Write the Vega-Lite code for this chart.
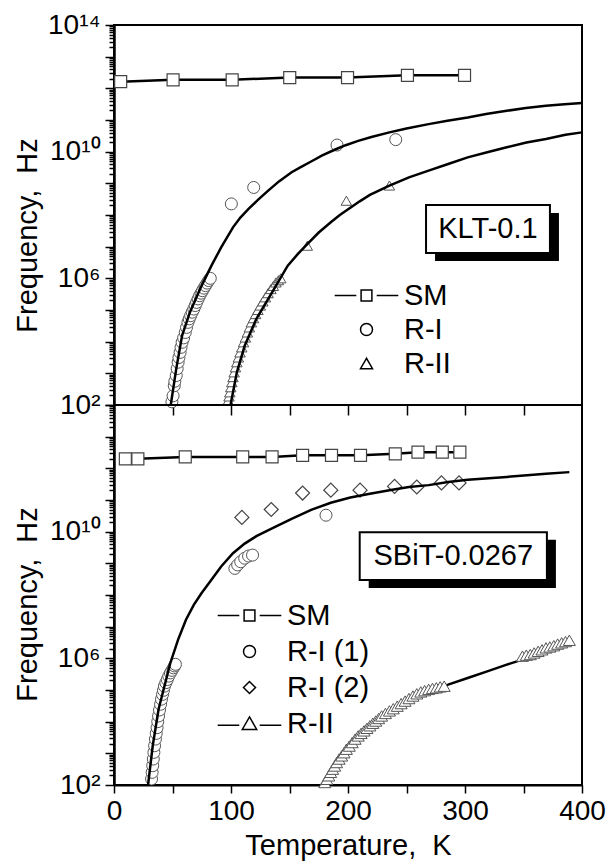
{
  "$schema": "https://vega.github.io/schema/vega-lite/v6.json",
  "autosize": {"type": "pad"},
  "padding": {"left": 12, "top": 10, "right": 5, "bottom": 5},
  "bounds": "flush",
  "spacing": 0,
  "config": {
    "font": "Liberation Sans",
    "view": {"stroke": "black", "strokeWidth": 2},
    "axis": {"grid": false, "labelColor": "black", "tickColor": "black", "domainColor": "black", "titleColor": "black", "titleFontWeight": "normal", "labelFont": "Liberation Sans", "titleFont": "Liberation Sans", "labelOverlap": false, "labelFlush": false, "labelBound": false}
  },
  "resolve": {"scale": {"x": "independent", "y": "independent", "shape": "independent"}, "axis": {"x": "independent", "y": "independent"}, "legend": {"shape": "independent"}},
  "datasets": {
    "top_SM": [{"T":5.7,"f":1.62e12},{"T":50.5,"f":1.86e12},{"T":101,"f":1.86e12},{"T":150.2,"f":2.19e12},{"T":199.6,"f":2.19e12},{"T":250.8,"f":2.57e12},{"T":299.6,"f":2.57e12}],
    "top_RI": [{"T":49.5,"f":126},{"T":50.5,"f":195},{"T":51.5,"f":407},{"T":52,"f":562},{"T":53.2,"f":851},{"T":54,"f":1413},{"T":54.8,"f":2239},{"T":55.5,"f":3162},{"T":56.5,"f":4571},{"T":57.3,"f":6607},{"T":58.2,"f":9550},{"T":59.5,"f":13183},{"T":60.9,"f":19498},{"T":62,"f":28184},{"T":63.2,"f":40738},{"T":64.3,"f":52481},{"T":65.5,"f":66069},{"T":66.8,"f":85114},{"T":68.2,"f":107152},{"T":69.4,"f":138038},{"T":70.6,"f":173780},{"T":71.9,"f":223872},{"T":73.2,"f":281838},{"T":74.4,"f":338844},{"T":75.6,"f":407380},{"T":76.9,"f":489779},{"T":78.2,"f":588844},{"T":79.5,"f":707946},{"T":80.9,"f":851138},{"T":82.3,"f":1000000},{"T":100.3,"f":2.24e8},{"T":119.4,"f":7.41e8},{"T":190.6,"f":1.62e10},{"T":240.8,"f":2.4e10}],
    "top_fit1": [{"T":48.5,"f":100},{"T":53.2,"f":1380},{"T":58.2,"f":15488},{"T":64.9,"f":85114},{"T":74.9,"f":588844},{"T":83.3,"f":2.51e6},{"T":91.6,"f":9.55e6},{"T":101.7,"f":4.07e7},{"T":108,"f":8.3e7},{"T":115,"f":1.55e8},{"T":123,"f":3.0e8},{"T":131.8,"f":5.89e8},{"T":141,"f":1.15e9},{"T":151.8,"f":2.24e9},{"T":160,"f":3.3e9},{"T":168.5,"f":4.9e9},{"T":178,"f":7.6e9},{"T":188.6,"f":1.15e10},{"T":198,"f":1.6e10},{"T":208.7,"f":2.2e10},{"T":220,"f":2.9e10},{"T":235.4,"f":4.07e10},{"T":250,"f":5.4e10},{"T":268.9,"f":7.41e10},{"T":285,"f":9.5e10},{"T":302.3,"f":1.2e11},{"T":318,"f":1.55e11},{"T":335.7,"f":1.95e11},{"T":352,"f":2.4e11},{"T":369.2,"f":2.82e11},{"T":385,"f":3.15e11},{"T":400,"f":3.47e11}],
    "top_RII": [{"T":97.6,"f":138},{"T":98.3,"f":186},{"T":99,"f":251},{"T":99.8,"f":363},{"T":100.7,"f":525},{"T":101.7,"f":759},{"T":102.7,"f":1072},{"T":103.8,"f":1549},{"T":105,"f":2239},{"T":106.3,"f":3162},{"T":107.7,"f":4571},{"T":109.2,"f":6607},{"T":110.7,"f":9550},{"T":112.3,"f":13490},{"T":114,"f":19498},{"T":115.7,"f":28184},{"T":117.4,"f":40738},{"T":119.2,"f":54954},{"T":121,"f":74131},{"T":123,"f":100000},{"T":125.1,"f":138038},{"T":127.2,"f":186209},{"T":129.4,"f":251189},{"T":131.7,"f":338844},{"T":134.1,"f":457088},{"T":136.2,"f":575440},{"T":138.4,"f":741310},{"T":140.5,"f":870964},{"T":142.5,"f":1000000},{"T":165.2,"f":1.07e7},{"T":198.6,"f":2.82e8},{"T":235.4,"f":8.51e8}],
    "top_fit2": [{"T":99.6,"f":100},{"T":105,"f":1072},{"T":111.7,"f":7413},{"T":121.7,"f":52481},{"T":135.1,"f":363078},{"T":148.5,"f":2.51e6},{"T":157,"f":5.8e6},{"T":165.2,"f":1.2e7},{"T":175,"f":2.8e7},{"T":185.3,"f":5.89e7},{"T":193,"f":1.0e8},{"T":202,"f":1.7e8},{"T":210,"f":2.7e8},{"T":218.7,"f":4.3e8},{"T":235.4,"f":8.51e8},{"T":252.1,"f":1.55e9},{"T":268.9,"f":2.51e9},{"T":285.6,"f":4.07e9},{"T":302.3,"f":6.61e9},{"T":319,"f":9.55e9},{"T":335.7,"f":1.38e10},{"T":352.5,"f":1.95e10},{"T":369.2,"f":2.51e10},{"T":385.9,"f":3.4e10},{"T":400,"f":4.07e10}],
    "bot_SM": [{"T":9.7,"f":2.0e12},{"T":20.4,"f":2.0e12},{"T":60.9,"f":2.29e12},{"T":110,"f":2.29e12},{"T":135.1,"f":2.29e12},{"T":161.2,"f":2.57e12},{"T":185.9,"f":2.57e12},{"T":210.7,"f":2.57e12},{"T":240.4,"f":2.88e12},{"T":259.8,"f":3.24e12},{"T":280.6,"f":3.24e12},{"T":295.6,"f":3.24e12}],
    "bot_RI1": [{"T":32.1,"f":155},{"T":32.6,"f":251},{"T":33.1,"f":407},{"T":33.6,"f":661},{"T":34.1,"f":1072},{"T":34.7,"f":1738},{"T":35.4,"f":2818},{"T":36.1,"f":4266},{"T":36.8,"f":6457},{"T":37.4,"f":10000},{"T":38.1,"f":15136},{"T":38.9,"f":23442},{"T":39.8,"f":35481},{"T":40.6,"f":51286},{"T":41.5,"f":72444},{"T":42.3,"f":97724},{"T":43.1,"f":131826},{"T":44.3,"f":169824},{"T":45.5,"f":213796},{"T":46.8,"f":275423},{"T":48.2,"f":346737},{"T":49.5,"f":416869},{"T":50.8,"f":501187},{"T":51.7,"f":575440},{"T":52.5,"f":645654},{"T":103.3,"f":6.92e8},{"T":105.7,"f":8.91e8},{"T":108.3,"f":1.12e9},{"T":111.7,"f":1.45e9},{"T":115,"f":1.7e9},{"T":118.4,"f":1.82e9},{"T":181.2,"f":3.31e10}],
    "bot_RI2": [{"T":109.3,"f":2.82e10},{"T":134.4,"f":5.01e10},{"T":161.2,"f":1.66e11},{"T":185.3,"f":2.04e11},{"T":210.3,"f":2.04e11},{"T":239.8,"f":2.69e11},{"T":258.8,"f":2.57e11},{"T":279.9,"f":3.47e11},{"T":294.9,"f":3.47e11}],
    "bot_fit1": [{"T":29.1,"f":100},{"T":33.1,"f":1738},{"T":38.1,"f":24547},{"T":43.1,"f":131826},{"T":48.2,"f":724436},{"T":54.8,"f":3.89e6},{"T":61.5,"f":1.66e7},{"T":68.2,"f":4.9e7},{"T":74.9,"f":1.15e8},{"T":83.3,"f":3.02e8},{"T":91.6,"f":7.94e8},{"T":101.7,"f":2.09e9},{"T":111.7,"f":4.2e9},{"T":121.7,"f":7.2e9},{"T":135.1,"f":1.26e10},{"T":151.8,"f":2.55e10},{"T":168.5,"f":4.9e10},{"T":185.3,"f":8.2e10},{"T":202,"f":1.2e11},{"T":218.7,"f":1.58e11},{"T":235.4,"f":2.04e11},{"T":252.1,"f":2.57e11},{"T":268.9,"f":2.95e11},{"T":285.6,"f":3.72e11},{"T":302.3,"f":4.37e11},{"T":335.7,"f":5.37e11},{"T":369.2,"f":6.76e11},{"T":389.2,"f":7.59e11}],
    "bot_RII": [{"T":180.2,"f":120},{"T":181.9,"f":151},{"T":183.6,"f":195},{"T":185.2,"f":251},{"T":186.9,"f":316},{"T":188.6,"f":398},{"T":190.3,"f":513},{"T":192.4,"f":661},{"T":194.6,"f":832},{"T":196.6,"f":1047},{"T":198.6,"f":1349},{"T":201.1,"f":1698},{"T":203.6,"f":2188},{"T":206.1,"f":2818},{"T":208.7,"f":3548},{"T":211.2,"f":4266},{"T":213.7,"f":5129},{"T":216.2,"f":6166},{"T":218.7,"f":7413},{"T":221.2,"f":8913},{"T":223.7,"f":10471},{"T":226.2,"f":12589},{"T":228.7,"f":15136},{"T":232,"f":18197},{"T":235.4,"f":21878},{"T":238.7,"f":25704},{"T":242.1,"f":30903},{"T":245.4,"f":37154},{"T":248.8,"f":44668},{"T":252.1,"f":53703},{"T":255.5,"f":64565},{"T":258.8,"f":75858},{"T":262.2,"f":87096},{"T":265.5,"f":95499},{"T":268.9,"f":104713},{"T":272.2,"f":112202},{"T":275.5,"f":117490},{"T":278.8,"f":125893},{"T":282.2,"f":131826},{"T":349.1,"f":1.17e6},{"T":352.4,"f":1.26e6},{"T":355.8,"f":1.32e6},{"T":359.1,"f":1.48e6},{"T":362.5,"f":1.66e6},{"T":365.8,"f":1.86e6},{"T":369.2,"f":2.14e6},{"T":372.5,"f":2.29e6},{"T":375.9,"f":2.51e6},{"T":379.2,"f":2.82e6},{"T":382.6,"f":3.09e6},{"T":385.9,"f":3.39e6},{"T":389.2,"f":3.72e6}],
    "bot_fit2": [{"T":178.6,"f":100},{"T":188.6,"f":407},{"T":202,"f":1738},{"T":218.7,"f":6607},{"T":235.4,"f":19498},{"T":252.1,"f":51286},{"T":268.9,"f":104713},{"T":285.6,"f":147911},{"T":302.3,"f":239883},{"T":319,"f":389045},{"T":335.7,"f":630957},{"T":349.1,"f":912011}],
    "one": [{"k": 1}]
  },
  "vconcat": [
    {
      "width": 468,
      "height": 380,
      "layer": [
        {"data": {"name": "top_RI"}, "mark": {"type": "point", "shape": "circle", "size": 144, "filled": true, "fill": "white", "stroke": "#555", "strokeWidth": 1, "opacity": 1},
          "encoding": {
            "x": {"field": "T", "type": "quantitative", "scale": {"domain": [0, 400], "nice": false, "zero": false},
              "axis": {"orient": "bottom", "values": [50, 100, 150, 200, 250, 300, 350], "labels": false, "title": null, "domain": false, "tickSize": 10, "tickWidth": 1.5}},
            "y": {"field": "f", "type": "quantitative", "scale": {"type": "log", "domain": [100, 1e14], "nice": false},
              "axis": {"title": "Frequency, \u00a0Hz", "titleFontSize": 29, "titleX": -78, "titleY": 210, "titleBaseline": "alphabetic", "labelFontSize": 28, "labelPadding": 5, "domainWidth": 2.5, "tickWidth": 1.5,
                "tickSize": {"condition": {"test": "abs(log(datum.value)/LN10 - round(log(datum.value)/LN10)) < 0.001", "value": 9}, "value": 5},
                "labelExpr": "abs(datum.value/1e2-1)<1e-6 ? '10²' : abs(datum.value/1e6-1)<1e-6 ? '10⁶' : abs(datum.value/1e10-1)<1e-6 ? '10¹⁰' : abs(datum.value/1e14-1)<1e-6 ? '10¹⁴' : ''",
                "values": [1e2,2e2,3e2,4e2,5e2,6e2,7e2,8e2,9e2,1e3,2e3,3e3,4e3,5e3,6e3,7e3,8e3,9e3,1e4,2e4,3e4,4e4,5e4,6e4,7e4,8e4,9e4,1e5,2e5,3e5,4e5,5e5,6e5,7e5,8e5,9e5,1e6,2e6,3e6,4e6,5e6,6e6,7e6,8e6,9e6,1e7,2e7,3e7,4e7,5e7,6e7,7e7,8e7,9e7,1e8,2e8,3e8,4e8,5e8,6e8,7e8,8e8,9e8,1e9,2e9,3e9,4e9,5e9,6e9,7e9,8e9,9e9,1e10,2e10,3e10,4e10,5e10,6e10,7e10,8e10,9e10,1e11,2e11,3e11,4e11,5e11,6e11,7e11,8e11,9e11,1e12,2e12,3e12,4e12,5e12,6e12,7e12,8e12,9e12,1e13,2e13,3e13,4e13,5e13,6e13,7e13,8e13,9e13,1e14]}}
          }},
        {"data": {"name": "top_RII"}, "mark": {"type": "point", "shape": "triangle-up", "size": 110, "filled": true, "fill": "white", "stroke": "#555", "strokeWidth": 1, "opacity": 1},
          "encoding": {"x": {"field": "T", "type": "quantitative", "scale": {"domain": [0, 400], "nice": false, "zero": false}}, "y": {"field": "f", "type": "quantitative", "scale": {"type": "log", "domain": [100, 1e14], "nice": false}}}},
        {"data": {"name": "top_fit1"}, "mark": {"type": "line", "color": "black", "strokeWidth": 2.5},
          "encoding": {"x": {"field": "T", "type": "quantitative", "scale": {"domain": [0, 400], "nice": false, "zero": false}}, "y": {"field": "f", "type": "quantitative", "scale": {"type": "log", "domain": [100, 1e14], "nice": false}}}},
        {"data": {"name": "top_fit2"}, "mark": {"type": "line", "color": "black", "strokeWidth": 2.5},
          "encoding": {"x": {"field": "T", "type": "quantitative", "scale": {"domain": [0, 400], "nice": false, "zero": false}}, "y": {"field": "f", "type": "quantitative", "scale": {"type": "log", "domain": [100, 1e14], "nice": false}}}},
        {"data": {"name": "top_SM"}, "mark": {"type": "line", "color": "black", "strokeWidth": 2.5},
          "encoding": {"x": {"field": "T", "type": "quantitative", "scale": {"domain": [0, 400], "nice": false, "zero": false}}, "y": {"field": "f", "type": "quantitative", "scale": {"type": "log", "domain": [100, 1e14], "nice": false}}}},
        {"data": {"name": "top_SM"}, "mark": {"type": "point", "shape": "square", "size": 144, "filled": true, "fill": "white", "stroke": "#444", "strokeWidth": 1.2, "opacity": 1},
          "encoding": {"x": {"field": "T", "type": "quantitative", "scale": {"domain": [0, 400], "nice": false, "zero": false}}, "y": {"field": "f", "type": "quantitative", "scale": {"type": "log", "domain": [100, 1e14], "nice": false}}}},
        {"data": {"name": "top_SM"}, "transform": [{"filter": "false"}],
          "mark": {"type": "point", "filled": false, "color": "black", "strokeWidth": 1.5, "size": 144, "opacity": 1},
          "encoding": {"x": {"field": "T", "type": "quantitative", "scale": {"domain": [0, 400], "nice": false, "zero": false}}, "y": {"field": "f", "type": "quantitative", "scale": {"type": "log", "domain": [100, 1e14], "nice": false}},
            "shape": {"field": "series", "type": "nominal",
            "scale": {"domain": ["SM", "R-I", "R-II"], "range": ["M-5.3,0H-1.7M1.7,0H5.3M-0.9,-0.9H0.9V0.9H-0.9Z", "circle", "triangle-up"]},
            "legend": {"title": null, "orient": "none", "legendX": 238, "legendY": 256, "padding": 0, "labelFontSize": 29, "labelFont": "Liberation Sans", "labelColor": "black", "labelOffset": 23, "symbolSize": 144, "symbolStrokeWidth": 1.5, "symbolStrokeColor": "black", "symbolFillColor": "transparent", "rowPadding": 4}}}},
        {"data": {"name": "one"}, "mark": {"type": "rect", "fill": "black"},
          "encoding": {"x": {"datum": 274.4, "type": "quantitative", "scale": {"domain": [0, 400], "nice": false, "zero": false}}, "x2": {"datum": 380.3}, "y": {"datum": 1.16e8, "type": "quantitative", "scale": {"type": "log", "domain": [100, 1e14], "nice": false}}, "y2": {"datum": 3.52e6}}},
        {"data": {"name": "one"}, "mark": {"type": "rect", "fill": "white", "stroke": "black", "strokeWidth": 2},
          "encoding": {"x": {"datum": 266.7, "type": "quantitative", "scale": {"domain": [0, 400], "nice": false, "zero": false}}, "x2": {"datum": 372.6}, "y": {"datum": 2.07e8, "type": "quantitative", "scale": {"type": "log", "domain": [100, 1e14], "nice": false}}, "y2": {"datum": 6.3e6}}},
        {"data": {"name": "one"}, "mark": {"type": "text", "fontSize": 29, "font": "Liberation Sans", "color": "black", "align": "center", "baseline": "middle"},
          "encoding": {"x": {"datum": 319.6, "type": "quantitative", "scale": {"domain": [0, 400], "nice": false, "zero": false}}, "y": {"datum": 3.61e7, "type": "quantitative", "scale": {"type": "log", "domain": [100, 1e14], "nice": false}}, "text": {"value": "KLT-0.1"}}}
      ]
    },
    {
      "width": 468,
      "height": 380,
      "layer": [
        {"data": {"name": "bot_RI1"}, "mark": {"type": "point", "shape": "circle", "size": 144, "filled": true, "fill": "white", "stroke": "#555", "strokeWidth": 1, "opacity": 1},
          "encoding": {
            "x": {"field": "T", "type": "quantitative", "scale": {"domain": [0, 400], "nice": false, "zero": false},
              "axis": {"orient": "bottom", "values": [0, 50, 100, 150, 200, 250, 300, 350, 400], "labelExpr": "datum.value % 100 == 0 ? datum.label : ''", "labelFontSize": 28, "labelPadding": 4, "tickSize": 8, "tickWidth": 1.5, "domainWidth": 2,
                "title": "Temperature, \u00a0K", "titleFontSize": 29, "titlePadding": 6}},
            "y": {"field": "f", "type": "quantitative", "scale": {"type": "log", "domain": [100, 1e14], "nice": false},
              "axis": {"title": "Frequency, \u00a0Hz", "titleFontSize": 29, "titleX": -78, "titleY": 199, "titleBaseline": "alphabetic", "labelFontSize": 28, "labelPadding": 5, "domainWidth": 2.5, "tickWidth": 1.5,
                "tickSize": {"condition": {"test": "abs(log(datum.value)/LN10 - round(log(datum.value)/LN10)) < 0.001", "value": 9}, "value": 5},
                "labelExpr": "abs(datum.value/1e2-1)<1e-6 ? '10²' : abs(datum.value/1e6-1)<1e-6 ? '10⁶' : abs(datum.value/1e10-1)<1e-6 ? '10¹⁰' : ''",
                "values": [1e2,2e2,3e2,4e2,5e2,6e2,7e2,8e2,9e2,1e3,2e3,3e3,4e3,5e3,6e3,7e3,8e3,9e3,1e4,2e4,3e4,4e4,5e4,6e4,7e4,8e4,9e4,1e5,2e5,3e5,4e5,5e5,6e5,7e5,8e5,9e5,1e6,2e6,3e6,4e6,5e6,6e6,7e6,8e6,9e6,1e7,2e7,3e7,4e7,5e7,6e7,7e7,8e7,9e7,1e8,2e8,3e8,4e8,5e8,6e8,7e8,8e8,9e8,1e9,2e9,3e9,4e9,5e9,6e9,7e9,8e9,9e9,1e10,2e10,3e10,4e10,5e10,6e10,7e10,8e10,9e10,1e11,2e11,3e11,4e11,5e11,6e11,7e11,8e11,9e11,1e12,2e12,3e12,4e12,5e12,6e12,7e12,8e12,9e12,1e13,2e13,3e13,4e13,5e13,6e13,7e13,8e13,9e13,1e14]}}
          }},
        {"data": {"name": "bot_RI2"}, "mark": {"type": "point", "shape": "diamond", "size": 196, "filled": true, "fill": "white", "stroke": "#444", "strokeWidth": 1.2, "opacity": 1},
          "encoding": {"x": {"field": "T", "type": "quantitative", "scale": {"domain": [0, 400], "nice": false, "zero": false}}, "y": {"field": "f", "type": "quantitative", "scale": {"type": "log", "domain": [100, 1e14], "nice": false}}}},
        {"data": {"name": "bot_fit1"}, "mark": {"type": "line", "color": "black", "strokeWidth": 2.5},
          "encoding": {"x": {"field": "T", "type": "quantitative", "scale": {"domain": [0, 400], "nice": false, "zero": false}}, "y": {"field": "f", "type": "quantitative", "scale": {"type": "log", "domain": [100, 1e14], "nice": false}}}},
        {"data": {"name": "bot_fit2"}, "mark": {"type": "line", "color": "black", "strokeWidth": 2.5},
          "encoding": {"x": {"field": "T", "type": "quantitative", "scale": {"domain": [0, 400], "nice": false, "zero": false}}, "y": {"field": "f", "type": "quantitative", "scale": {"type": "log", "domain": [100, 1e14], "nice": false}}}},
        {"data": {"name": "bot_RII"}, "mark": {"type": "point", "shape": "triangle-up", "size": 144, "filled": true, "fill": "white", "stroke": "#555", "strokeWidth": 1, "opacity": 1},
          "encoding": {"x": {"field": "T", "type": "quantitative", "scale": {"domain": [0, 400], "nice": false, "zero": false}}, "y": {"field": "f", "type": "quantitative", "scale": {"type": "log", "domain": [100, 1e14], "nice": false}}}},
        {"data": {"name": "bot_SM"}, "mark": {"type": "line", "color": "black", "strokeWidth": 2.5},
          "encoding": {"x": {"field": "T", "type": "quantitative", "scale": {"domain": [0, 400], "nice": false, "zero": false}}, "y": {"field": "f", "type": "quantitative", "scale": {"type": "log", "domain": [100, 1e14], "nice": false}}}},
        {"data": {"name": "bot_SM"}, "mark": {"type": "point", "shape": "square", "size": 144, "filled": true, "fill": "white", "stroke": "#444", "strokeWidth": 1.2, "opacity": 1},
          "encoding": {"x": {"field": "T", "type": "quantitative", "scale": {"domain": [0, 400], "nice": false, "zero": false}}, "y": {"field": "f", "type": "quantitative", "scale": {"type": "log", "domain": [100, 1e14], "nice": false}}}},
        {"data": {"name": "bot_SM"}, "transform": [{"filter": "false"}],
          "mark": {"type": "point", "filled": false, "color": "black", "strokeWidth": 1.5, "size": 144, "opacity": 1},
          "encoding": {"x": {"field": "T", "type": "quantitative", "scale": {"domain": [0, 400], "nice": false, "zero": false}}, "y": {"field": "f", "type": "quantitative", "scale": {"type": "log", "domain": [100, 1e14], "nice": false}},
            "shape": {"field": "series", "type": "nominal",
            "scale": {"domain": ["SM", "R-I (1)", "R-I (2)", "R-II"], "range": ["M-5.3,0H-1.7M1.7,0H5.3M-0.9,-0.9H0.9V0.9H-0.9Z", "circle", "diamond", "M-5.3,0.3H-1.7M1.7,0.3H5.3M0,-1.1L1.2,1H-1.2Z"]},
            "legend": {"title": null, "orient": "none", "legendX": 121, "legendY": 196, "padding": 0, "labelFontSize": 29, "labelFont": "Liberation Sans", "labelColor": "black", "labelOffset": 23, "symbolSize": 144, "symbolStrokeWidth": 1.5, "symbolStrokeColor": "black", "symbolFillColor": "transparent", "rowPadding": 6}}}},
        {"data": {"name": "one"}, "mark": {"type": "rect", "fill": "black"},
          "encoding": {"x": {"datum": 217.7, "type": "quantitative", "scale": {"domain": [0, 400], "nice": false, "zero": false}}, "x2": {"datum": 377.7}, "y": {"datum": 5.6e9, "type": "quantitative", "scale": {"type": "log", "domain": [100, 1e14], "nice": false}}, "y2": {"datum": 1.65e8}}},
        {"data": {"name": "one"}, "mark": {"type": "rect", "fill": "white", "stroke": "black", "strokeWidth": 2},
          "encoding": {"x": {"datum": 210, "type": "quantitative", "scale": {"domain": [0, 400], "nice": false, "zero": false}}, "x2": {"datum": 370}, "y": {"datum": 9.5e9, "type": "quantitative", "scale": {"type": "log", "domain": [100, 1e14], "nice": false}}, "y2": {"datum": 2.95e8}}},
        {"data": {"name": "one"}, "mark": {"type": "text", "fontSize": 29, "font": "Liberation Sans", "color": "black", "align": "center", "baseline": "middle"},
          "encoding": {"x": {"datum": 290, "type": "quantitative", "scale": {"domain": [0, 400], "nice": false, "zero": false}}, "y": {"datum": 1.68e9, "type": "quantitative", "scale": {"type": "log", "domain": [100, 1e14], "nice": false}}, "text": {"value": "SBiT-0.0267"}}}
      ]
    }
  ]
}
